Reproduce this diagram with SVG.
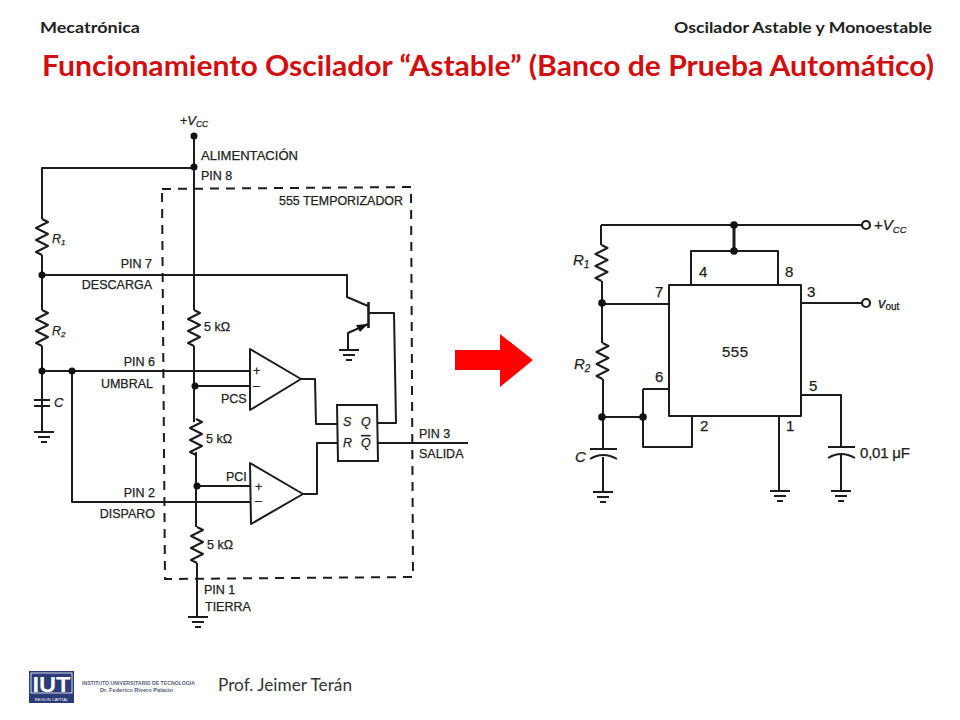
<svg xmlns="http://www.w3.org/2000/svg" width="960" height="720" viewBox="0 0 960 720">
<style>
.w{fill:none;stroke:#1c1c1c;stroke-width:2;stroke-linejoin:round}
.d{fill:#111;stroke:none}
.o{fill:#fff;stroke:#1c1c1c;stroke-width:2.2}
.t{font-family:"Liberation Sans",Arial,sans-serif;font-size:12.500px;fill:#222;stroke:#222;stroke-width:.25}
.i{font-style:italic}
.n{font-family:"Liberation Sans",Arial,sans-serif;font-size:15px;fill:#222;stroke:#222;stroke-width:.25}
.h{font-family:Lato,"Open Sans",sans-serif;font-weight:700;font-size:16px;fill:#222}
</style>
<defs>
<path id="res" class="w" d="M0 0 L6 3 L-6 9 L6 15 L-6 21 L6 27 L-6 33 L0 36"/>
<g id="gnd"><path class="w" d="M-10 0H10M-6 5H6M-3 10H3"/></g>
</defs>
<rect width="960" height="720" fill="#fff"/>
<g id="header">
<text class="h" x="40" y="33" textLength="100" lengthAdjust="spacingAndGlyphs">Mecatrónica</text>
<text class="h" x="674" y="33" textLength="258" lengthAdjust="spacingAndGlyphs">Oscilador Astable y Monoestable</text>
<text x="42" y="76" textLength="892" lengthAdjust="spacingAndGlyphs" style="font-family:Lato,'Open Sans',sans-serif;font-weight:700;font-size:28px;fill:#d01010">Funcionamiento Oscilador “Astable” (Banco de Prueba Automático)</text>
</g>
<g id="connectors">
<path class="w" d="M194 136V310M194 346V422M196 452V527M197 563V617"/>
<path class="w" d="M194 168H42V219M42 255V310M42 346V432"/>
<path class="w" d="M42 275H347V297L368 306M368 324L348 333V350M368 313H394L396 423H377"/>
<path class="w" d="M42 371H250M72 371V502H251M195 386H250M197 486H251"/>
<path class="w" d="M301 379H315L316 424H337M303 494H317V443H337M377 443H468"/>
<path class="w" d="M601 225H863M601 225V245M602 281V343M603 379V449M603 457V492M602 304H669M603 417H643M643 389V447H692V416M643 389H669"/>
<path class="w" d="M691 285V251H778V285M801 303H863M801 395H841V447M841 455V491M779 416V491"/>
<path class="w" d="M734 225V251" style="stroke-width:3"/>
</g>
<g id="box-555"><path d="M162 189L411 187L413 577L165 579Z" fill="none" stroke="#1c1c1c" stroke-width="2" stroke-dasharray="9 7"/>
<text class="t" x="279" y="205" textLength="124" lengthAdjust="spacingAndGlyphs">555 TEMPORIZADOR</text></g>
<g id="vcc-left"><circle class="d" cx="194" cy="136" r="3.500"/><text class="t" x="180" y="125">+<tspan class="i" style="font-size:13px">V</tspan><tspan class="i" dy="2" style="font-size:8.500px">CC</tspan></text></g>
<g id="junctions-left" class="d">
<circle cx="194" cy="167" r="3.500"/><circle cx="42" cy="275" r="3.500"/><circle cx="42" cy="371" r="3.500"/><circle cx="72" cy="371" r="3.500"/><circle cx="195" cy="386" r="3.500"/><circle cx="197" cy="486" r="3.500"/>
</g>
<g id="pin8"><text class="t" x="201" y="160" textLength="97" lengthAdjust="spacingAndGlyphs">ALIMENTACIÓN</text><text class="t" x="201" y="180">PIN 8</text></g>
<g id="r1-left"><use href="#res" x="42" y="219"/><text class="t i" x="52" y="243">R<tspan dy="2" style="font-size:8px">1</tspan></text></g>
<g id="r2-left"><use href="#res" x="42" y="310"/><text class="t i" x="52" y="335">R<tspan dy="2" style="font-size:8px">2</tspan></text></g>
<g id="c-left"><path class="w" d="M34 400H50M34 406H50"/><use href="#gnd" x="44" y="432"/><text class="t i" x="54" y="407" style="font-size:13px">C</text></g>
<g id="pin7"><text class="t" x="152" y="268" text-anchor="end">PIN 7</text><text class="t" x="152" y="289" text-anchor="end">DESCARGA</text></g>
<g id="pin6"><text class="t" x="155" y="366" text-anchor="end">PIN 6</text><text class="t" x="153" y="388" text-anchor="end">UMBRAL</text></g>
<g id="pin2"><text class="t" x="155" y="497" text-anchor="end">PIN 2</text><text class="t" x="155" y="518" text-anchor="end">DISPARO</text></g>
<g id="pin1"><text class="t" x="204" y="594">PIN 1</text><text class="t" x="205" y="611">TIERRA</text><use href="#gnd" x="198" y="617"/></g>
<g id="r-5k-1"><use href="#res" x="194" y="310"/><text class="t" x="204" y="331">5 kΩ</text></g>
<g id="r-5k-2"><use href="#res" x="196" y="419"/><text class="t" x="206" y="443">5 kΩ</text></g>
<g id="r-5k-3"><use href="#res" x="197" y="527"/><text class="t" x="207" y="549">5 kΩ</text></g>
<g id="comp-upper"><path d="M250 349V410L301 379Z" fill="#fff" stroke="#1c1c1c" stroke-width="2" stroke-linejoin="round"/><text class="t" x="253" y="375">+</text><text class="t" x="253" y="390">–</text><text class="t" x="221" y="403">PCS</text></g>
<g id="comp-lower"><path d="M250 463L251 524L303 494Z" fill="#fff" stroke="#1c1c1c" stroke-width="2" stroke-linejoin="round"/><text class="t" x="255" y="491">+</text><text class="t" x="255" y="505">–</text><text class="t" x="226" y="481">PCI</text></g>
<g id="transistor"><path class="w" d="M368.500 302V328" style="stroke-width:2.600"/><path class="d" d="M368 324L356 325L360 332Z"/><use href="#gnd" x="349" y="350"/></g>
<g id="flipflop"><path d="M337 405H377L378 461H338Z" fill="#fff" stroke="#1c1c1c" stroke-width="2"/>
<text class="t i" x="343" y="426">S</text><text class="t i" x="361" y="426">Q</text><text class="t i" x="343" y="447">R</text><text class="t i" x="361" y="447" text-decoration="overline">Q</text></g>
<g id="pin3"><text class="t" x="419" y="438">PIN 3</text><text class="t" x="419" y="458">SALIDA</text></g>
<g id="arrow"><path d="M455 350H500V334L533 360L500 387V370H455Z" fill="#fe0000"/></g>
<g id="ic-555"><rect class="w" x="669" y="285" width="132" height="131" fill="#fff"/><text class="n" x="722" y="357" textLength="26">555</text>
<text class="n" x="699" y="277">4</text><text class="n" x="785" y="277">8</text><text class="n" x="655" y="297">7</text><text class="n" x="807" y="297">3</text><text class="n" x="655" y="382">6</text><text class="n" x="809" y="391">5</text><text class="n" x="700" y="431">2</text><text class="n" x="786" y="431">1</text></g>
<g id="junctions-right" class="d"><circle cx="734" cy="225" r="3.800"/><circle cx="734" cy="251" r="3.800"/><circle cx="602" cy="303" r="3.800"/><circle cx="602" cy="417" r="3.800"/><circle cx="643" cy="417" r="3.800"/></g>
<g id="vcc-right"><circle class="o" cx="866" cy="225" r="4"/><text class="n" x="874" y="230">+<tspan class="i" style="font-size:15px">V</tspan><tspan class="i" dy="3" style="font-size:9.500px">CC</tspan></text></g>
<g id="vout"><circle class="o" cx="866" cy="303" r="4"/><text class="n i" x="878" y="308">v<tspan dy="2" style="font-size:10px;font-style:normal">out</tspan></text></g>
<g id="r1-right"><use href="#res" x="601.500" y="245"/><text class="n i" x="573" y="265">R<tspan dy="3" style="font-size:10px">1</tspan></text></g>
<g id="r2-right"><use href="#res" x="602.500" y="343"/><text class="n i" x="574" y="369">R<tspan dy="3" style="font-size:10px">2</tspan></text></g>
<g id="c-right"><path class="w" d="M590 449H617M590 459Q603 451 617 459"/><use href="#gnd" x="603" y="492"/><text class="n i" x="575" y="462">C</text></g>
<g id="c-001"><path class="w" d="M828 447H855M828 458Q841 450 855 458"/><use href="#gnd" x="841" y="491"/><text class="n" x="860" y="458" textLength="50">0,01 μF</text></g>
<g id="gnd-pin1"><use href="#gnd" x="780" y="491"/></g>
<g id="footer">
<rect x="29" y="671" width="45" height="32" fill="#2b3a78"/>
<rect x="31" y="673" width="41" height="20" fill="none" stroke="#fff" stroke-width=".8"/>
<text x="51.500" y="692" text-anchor="middle" textLength="38" lengthAdjust="spacingAndGlyphs" style="font-family:'Liberation Sans',sans-serif;font-weight:700;font-size:22px;fill:#fff">IUT</text>
<text x="51.500" y="701" text-anchor="middle" style="font-family:'Liberation Sans',sans-serif;font-size:4px;fill:#fff">REGION CAPITAL</text>
<text x="82" y="685" textLength="113" lengthAdjust="spacingAndGlyphs" style="font-family:'Liberation Sans',sans-serif;font-weight:700;font-size:5px;fill:#5a5f78">INSTITUTO UNIVERSITARIO DE TECNOLOGIA</text>
<text x="100" y="692" textLength="73" lengthAdjust="spacingAndGlyphs" style="font-family:'Liberation Sans',sans-serif;font-weight:700;font-size:5px;fill:#5a5f78">Dr. Federico Rivero Palacio</text>
<text x="218" y="691" textLength="134" lengthAdjust="spacingAndGlyphs" style="font-family:Lato,'Open Sans',sans-serif;font-size:17px;fill:#333">Prof. Jeimer Terán</text>
</g>
</svg>
